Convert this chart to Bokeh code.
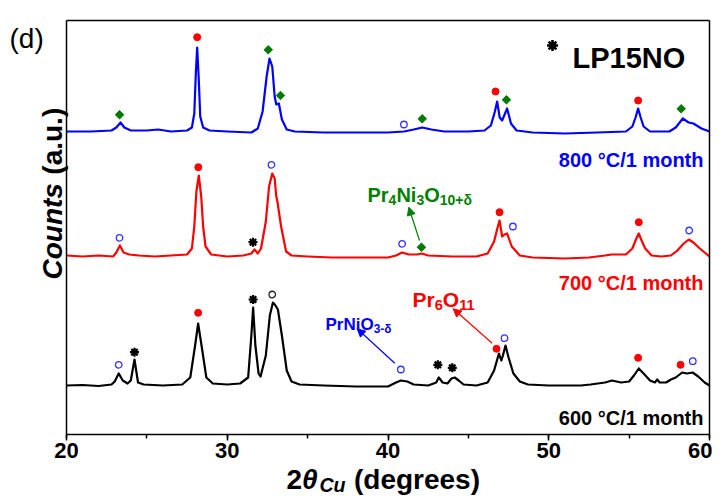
import math
from bokeh.plotting import figure
from bokeh.models import Range1d, Label, Arrow, NormalHead, SingleIntervalTicker, FixedTicker, LinearAxis
from bokeh.embed import file_html
from bokeh.resources import INLINE

# ---------------- data (2theta in degrees, counts in a.u.) ----------------
offset_600 = 49
offset_700 = 178
offset_800 = 303

x_600 = [20.0, 21.0, 22.0, 22.8, 23.0, 23.25, 23.5, 23.8, 24.0, 24.23, 24.45, 24.8, 26.0, 27.2, 27.7, 28.0,
         28.19, 28.4, 28.7, 29.1, 30.0, 30.8, 31.3, 31.5, 31.61, 31.75, 31.95, 32.07, 32.4, 32.65, 32.84, 33.0,
         33.15, 33.4, 33.7, 34.0, 34.5, 36.0, 38.0, 40.0, 40.5, 40.8, 41.2, 41.6, 42.5, 43.0, 43.16, 43.4, 43.7,
         43.95, 44.15, 44.4, 44.7, 45.5, 46.2, 46.6, 46.9, 47.05, 47.15, 47.31, 47.5, 47.8, 48.2, 48.7, 50.0,
         52.0, 52.6, 53.5, 53.94, 54.5, 55.0, 55.3, 55.6, 55.9, 56.3, 56.6, 56.75, 56.9, 57.3, 57.6, 57.9, 58.3,
         58.6, 58.95, 59.3, 59.7, 60.0]
h_600 = [0, 0.5, -0.5, 1, 4, 12, 5, 2, 5, 26, 3, 1, 0, 1, 8, 40,
         62, 40, 8, 2, 1, 2, 8, 50, 78, 40, 12, 9, 30, 70, 83, 80,
         76, 50, 15, 4, 1, 0, -1, -1, 3, 5, 4, 1, 0, 3, 8, 3, 2,
         7, 8, 5, 1, 0, 3, 15, 32, 25, 30, 40, 28, 12, 4, 1, 0,
         0, 1, 3, 5, 3, 4, 10, 17, 12, 5, 3, 6, 3, 3, 6, 8, 13,
         12, 13, 9, 3, 0]

x_700 = [20.0, 21.0, 22.0, 22.9, 23.1, 23.32, 23.55, 23.9, 24.5, 25.5, 26.5, 27.5, 27.8, 27.95, 28.08, 28.23,
         28.38, 28.5, 28.65, 29.0, 30.0, 31.0, 31.5, 31.7, 31.9, 32.1, 32.4, 32.6, 32.8, 32.95, 33.05, 33.12,
         33.35, 33.66, 34.0, 35.0, 36.5, 38.0, 40.0, 40.5, 40.88, 41.3, 41.8, 42.1, 42.5, 44.0, 45.5, 46.2,
         46.6, 46.8, 46.94, 47.1, 47.25, 47.41, 47.7, 48.2, 49.0, 51.0, 52.5, 53.5, 53.9, 54.8, 55.2, 55.45,
         55.6, 55.75, 56.0, 56.4, 57.0, 57.6, 58.0, 58.4, 58.71, 59.0, 59.4, 60.0]
h_700 = [1, 0, 1, 0, 4, 11, 4, 2, 1, 0, 1, 2, 8, 30, 65, 81,
         60, 30, 10, 2, 0, 1, 3, 7, 3, 8, 35, 70, 83, 78, 60, 55,
         30, 5, 1, 0, -1, -1, -1, 1, 4, 2, 2, 3, 1, 0, 0, 3,
         15, 28, 36, 20, 22, 23, 10, 1, -1, -2, -1, 1, 2, 2, 8, 18,
         23, 17, 8, 1, 0, 1, 6, 13, 17, 14, 8, 0]

x_800 = [20.0, 21.5, 22.8, 23.1, 23.36, 23.6, 24.0, 25.0, 25.7, 26.5, 27.5, 27.8, 27.95, 28.05, 28.13, 28.22,
         28.32, 28.5, 28.9, 30.0, 31.5, 31.9, 32.2, 32.45, 32.63, 32.8, 32.95, 33.05, 33.21, 33.4, 33.7, 34.2,
         36.0, 38.0, 40.0, 41.0, 41.6, 42.13, 42.7, 43.5, 45.0, 46.0, 46.4, 46.65, 46.79, 46.95, 47.1, 47.41,
         47.65, 48.0, 49.0, 51.0, 53.0, 54.8, 55.2, 55.4, 55.56, 55.7, 55.9, 56.3, 57.5, 57.9, 58.34, 58.7,
         59.0, 59.5, 60.0]
h_800 = [0, 0, 1, 4, 9, 4, 1, 1, 2, 0, 1, 4, 18, 60, 84, 55,
         15, 4, 1, 0, -1, 3, 20, 55, 73, 65, 35, 27, 28, 12, 2, 0,
         -1, -1, -1, 0, 2, 4, 2, 0, 0, 1, 6, 20, 30, 14, 11, 23,
         8, 1, -1, -2, -1, 0, 5, 14, 23, 15, 5, 0, 0, 4, 13, 9,
         8, 3, 0]

# phase markers (2theta, counts)
pr6o11_x = [28.13, 46.69, 55.56, 28.2, 46.94, 55.6, 28.19, 46.75, 55.56, 58.2]
pr6o11_y = [397.3, 343, 334, 267.3, 222.3, 212.3, 121.7, 85.7, 76.7, 69.7]
pr4ni3_x = [23.3, 32.55, 33.31, 42.13, 47.37, 58.24, 42.08]
pr4ni3_y = [319.7, 384.7, 339, 315.7, 334.7, 325.7, 187.3]
prnio3_x = [40.99, 23.3, 32.75, 40.88, 47.77, 58.74, 23.25, 40.8, 47.25, 58.96]
prnio3_y = [310, 196.7, 269.7, 190.7, 208, 204, 69.7, 65, 96.3, 73.3]
other_o_x = [32.8]
other_o_y = [140]
lp15no_x = [24.23, 31.61, 43.1, 44.0, 31.6]
lp15no_y = [82.3, 135, 69.7, 66.7, 192.3]

x_min, x_max = 20, 60
y_min, y_max = 0, 414
x_ticks_interval = 10

# ---------------- geometry helpers (window pixels -> data) ----------------
FIG_W, FIG_H = 712, 498
ORIGIN = 0                                  # where the canvas lands in the photographed window
AX_L, AX_R, AX_T, AX_B = 66, 709, 20, 434   # plot box in window pixels

def X(px):
    return x_min + (px - AX_L) * (x_max - x_min) / (AX_R - AX_L)

def Y(py):
    return y_min + (AX_B - py) * (y_max - y_min) / (AX_B - AX_T)

p = figure(width=FIG_W, height=FIG_H,
           x_range=Range1d(X(ORIGIN), X(ORIGIN + FIG_W)), y_range=Range1d(Y(ORIGIN + FIG_H), Y(ORIGIN)),
           output_backend="svg", toolbar_location=None, min_border=0)
p.background_fill_color = "white"
p.border_fill_color = "white"
p.xgrid.visible = False
p.ygrid.visible = False
p.outline_line_color = None

xa = p.xaxis[0]
xa.fixed_location = y_min
xa.bounds = (x_min, x_max)
xa.ticker = SingleIntervalTicker(interval=x_ticks_interval, num_minor_ticks=2)
xa.axis_line_width = 1.5
xa.major_tick_line_width = 1.5
xa.minor_tick_line_width = 1.5
xa.major_tick_out = 6
xa.major_tick_in = 0
xa.minor_tick_out = 4
xa.minor_tick_in = 0
xa.major_label_text_font = "Liberation Sans"
xa.major_label_text_font_style = "bold"
xa.major_label_text_font_size = "22px"
xa.major_label_text_color = "black"
xa.major_label_standoff = 2

ya = p.yaxis[0]
ya.fixed_location = x_min
ya.bounds = (y_min, y_max)
ya.ticker = FixedTicker(ticks=[])
ya.axis_line_width = 1.5
ya.major_tick_line_color = None
ya.minor_tick_line_color = None
ya.major_label_text_font_size = "0px"

top = LinearAxis(fixed_location=y_max, bounds=(x_min, x_max), ticker=FixedTicker(ticks=[]),
                 axis_line_width=1.5, major_tick_line_color=None, minor_tick_line_color=None,
                 major_label_text_font_size="0px")
right = LinearAxis(fixed_location=x_max, bounds=(y_min, y_max), ticker=FixedTicker(ticks=[]),
                   axis_line_width=1.5, major_tick_line_color=None, minor_tick_line_color=None,
                   major_label_text_font_size="0px")
p.add_layout(top, "above")
p.add_layout(right, "right")

# ---------------- traces ----------------
for xs, hs, off, col in [(x_600, h_600, offset_600, "black"),
                         (x_700, h_700, offset_700, "#ff0000"),
                         (x_800, h_800, offset_800, "#0000ff")]:
    p.line(xs, [h + off for h in hs], line_color=col, line_width=2.2, line_join="round")

p.scatter(pr6o11_x, pr6o11_y, marker="circle", size=7, fill_color="#ff0000", line_color="#ff0000")
p.scatter(pr4ni3_x, pr4ni3_y, marker="square", angle=math.pi / 4, size=6, fill_color="#007a00", line_color="#007a00")
p.scatter(prnio3_x, prnio3_y, marker="circle", size=6.5, fill_color=None, line_color="#3333ff", line_width=1.3)
p.scatter(other_o_x, other_o_y, marker="circle", size=6.5, fill_color=None, line_color="#222222", line_width=1.3)
p.scatter(lp15no_x, lp15no_y, marker="asterisk", size=9, line_color="black", line_width=2.2)

# ---------------- annotations ----------------
W = {'P': .667, 'r': .389, 'N': .722, 'i': .278, 'O': .778, '+': .584, '-': .333, 'δ': .611, ' ': .278,
     'C': .722, 'u': .611, '(': .333, ')': .333, 'd': .611, 'e': .556, 'g': .611, 's': .556, 'θ': .6,
     'L': .611, 'o': .611, 'n': .611, 't': .333, 'a': .556, '.': .278}

def tw(s):
    return sum(W.get(c, .556) for c in s)

def rich(parts, px0, base_py, color, size, drop=0.28):
    x = px0
    for text, sub, italic, gap in parts:
        fs = size * 0.7 if sub else size
        yb = base_py + drop * size if sub else base_py
        x += gap * size
        p.add_layout(Label(x=X(x), y=Y(yb), text=text, text_font="Liberation Sans",
                           text_font_style="bold italic" if italic else "bold",
                           text_font_size=f"{fs:.1f}px", text_color=color,
                           text_baseline="alphabetic", text_align="left"))
        x += tw(text) * fs

def label(text, px, py, color, size, align="left", style="bold"):
    p.add_layout(Label(x=X(px), y=Y(py), text=text, text_font="Liberation Sans",
                       text_font_style=style, text_font_size=f"{size}px", text_color=color,
                       text_baseline="alphabetic", text_align=align))

label("800 °C/1 month", 703, 159, "#0000ff", 20, align="right")
label("700 °C/1 month", 703, 282, "#ff0000", 20, align="right")
label("600 °C/1 month", 703, 417, "black", 20, align="right")
label("LP15NO", 572, 57, "black", 29)
p.scatter([X(552)], [Y(45)], marker="asterisk", size=11, line_color="black", line_width=2.6)
label("(d)", 9, 38, "black", 28, style="normal")

rich([("PrNiO", False, False, 0), ("3-δ", True, False, 0)], 325, 324, "#0000ff", 17)
rich([("Pr", False, False, 0), ("6", True, False, 0), ("O", False, False, 0), ("11", True, False, 0)],
     412, 299, "#ff0000", 21)
rich([("Pr", False, False, 0), ("4", True, False, 0), ("Ni", False, False, 0), ("3", True, False, 0),
      ("O", False, False, 0), ("10+δ", True, False, 0)], 367, 194, "#008000", 20)

for (x0, y0, x1, y1, col) in [(394.3, 362.7, 356.7, 328.3, "#0000ff"),
                              (491.7, 342.7, 452.7, 308.3, "#ff0000"),
                              (419.0, 240.0, 408.3, 206.7, "#008000")]:
    p.add_layout(Arrow(end=NormalHead(size=8, fill_color=col, line_color=col, line_width=1),
                       x_start=X(x0), y_start=Y(y0), x_end=X(x1), y_end=Y(y1),
                       line_color=col, line_width=1.2))

# x-axis title: 2θ_Cu (degrees)
rich([("2", False, False, 0), ("θ", False, True, 0), ("Cu", True, True, 0.02), ("(degrees)", False, False, 0.3)],
     286, 479, "black", 28, drop=0.2)

# y-axis title: Counts (a.u.), rotated
ystart = 279
p.add_layout(Label(x=X(52), y=Y(ystart), text="Counts", text_font="Liberation Sans",
                   text_font_style="bold italic", text_font_size="28px", text_color="black",
                   text_baseline="alphabetic", text_align="left", angle=math.pi / 2))
p.add_layout(Label(x=X(52), y=Y(ystart - (tw("Counts") + 0.3) * 28), text="(a.u.)", text_font="Liberation Sans",
                   text_font_style="bold", text_font_size="28px", text_color="black",
                   text_baseline="alphabetic", text_align="left", angle=math.pi / 2))

open("out.html", "w").write(file_html(p, INLINE))
